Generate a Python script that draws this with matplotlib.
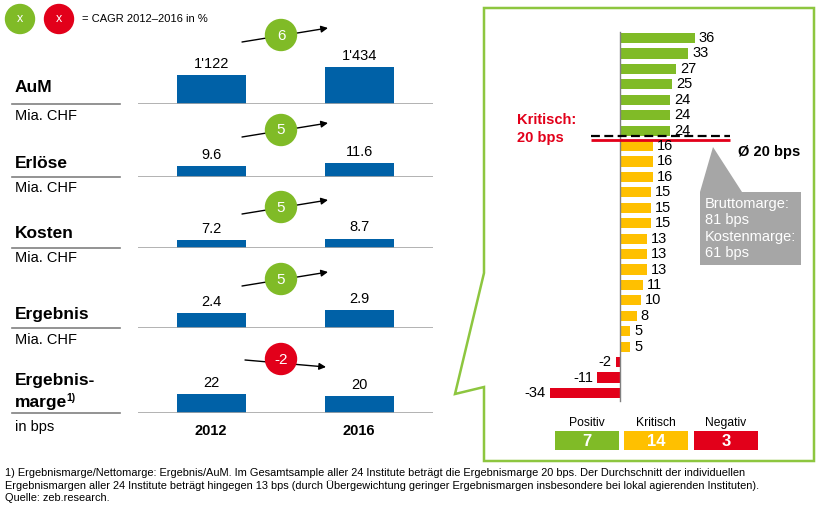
import matplotlib.pyplot as plt
from matplotlib.patches import Circle, Polygon, Rectangle

plt.rcParams['font.family'] = ['Liberation Sans', 'DejaVu Sans']

W, H = 825, 514

# --- Daten ---
kennzahlen = ['AuM', 'Erlöse', 'Kosten', 'Ergebnis', 'Ergebnis-\nmarge']
einheiten = ['Mia. CHF', 'Mia. CHF', 'Mia. CHF', 'Mia. CHF', 'in bps']
jahre = ['2012', '2016']
werte_2012 = [1122, 9.6, 7.2, 2.4, 22]
werte_2016 = [1434, 11.6, 8.7, 2.9, 20]
cagr = [6, 5, 5, 5, -2]

margen = [36, 33, 27, 25, 24, 24, 24, 16, 16, 16, 15, 15, 15, 13, 13, 13,
          11, 10, 8, 5, 5, -2, -11, -34]
gruppen = ['Positiv', 'Kritisch', 'Negativ']
kritisch_grenze = 20
durchschnitt = 20
brutto_marge = 81
kosten_marge = 61

fussnote = [
    '1) Ergebnismarge/Nettomarge: Ergebnis/AuM. Im Gesamtsample aller 24 Institute beträgt die Ergebnismarge 20 bps. '
    'Der Durchschnitt der individuellen',
    'Ergebnismargen aller 24 Institute beträgt hingegen 13 bps (durch Übergewichtung geringer Ergebnismargen '
    'insbesondere bei lokal agierenden Instituten).',
    'Quelle: zeb.research.',
]

# Farben
BLAU = '#0061A7'
GRUEN = '#80BB27'
GELB = '#FFC000'
ROT = '#E2001A'
GRAU = '#A6A6A6'
LINIE = '#808080'

# Layout in Pixeln (Zeilen links)
zeile_basis = [104, 177, 248, 328, 413]
zeile_skala = [38.7, 0.85, 0.93, 0.161, 1.17]   # Einheiten pro Pixel
label_y = [88, 163, 233, 314, 381]
einheit_y = [116, 188, 258, 340, 427]
kreis_y = [35, 130, 207, 279, 359]


def fmt(v):
    if v >= 1000:
        return f"{v:,.0f}".replace(',', "'")
    return f"{v:g}"


def px_axes(fig, x0, y0, x1, y1):
    return fig.add_axes([x0 / W, 1 - y1 / H, (x1 - x0) / W, (y1 - y0) / H])


fig = plt.figure(figsize=(W / 100, H / 100), dpi=100)

# Overlay für Text und Formen
ov = fig.add_axes([0, 0, 1, 1])
ov.set_xlim(0, W)
ov.set_ylim(H, 0)
ov.axis('off')

# --- Legende oben links ---
ov.add_patch(Circle((20, 19), 14.5, color=GRUEN))
ov.add_patch(Circle((59, 19), 14.5, color=ROT))
ov.text(20, 19.5, 'x', color='white', fontsize=9, ha='center', va='center')
ov.text(59, 19.5, 'x', color='white', fontsize=9, ha='center', va='center')
ov.text(82, 19.5, '= CAGR 2012–2016 in %', fontsize=8, va='center')

# --- Linker Teil: Kennzahlen ---
for i, name in enumerate(kennzahlen):
    base = zeile_basis[i]
    # Beschriftung
    zeilen = name.split('\n')
    for k, z in enumerate(zeilen):
        t = ov.text(15, label_y[i] + k * 22, z, fontsize=12.5, fontweight='bold', va='center')
    if i == len(kennzahlen) - 1:
        ov.annotate('1)', xy=(1.0, 0.5), xycoords=t, fontsize=7.5, fontweight='bold',
                    va='bottom', ha='left', xytext=(-0.5, 0), textcoords='offset points')
    ov.text(15, einheit_y[i], einheiten[i], fontsize=10.5, va='center')
    ov.plot([12, 120], [base, base], color=LINIE, lw=1.2)

    # Balken
    ax = px_axes(fig, 138, base - 50, 433, base)
    ax.patch.set_alpha(0)
    hoehe = 50 * zeile_skala[i]
    werte = [werte_2012[i], werte_2016[i]]
    bars = ax.bar([0, 1], werte, width=0.47, color=BLAU)
    ax.bar_label(bars, labels=[fmt(v) for v in werte], padding=3, fontsize=10.5)
    ax.axhline(0, color=GRAU, lw=1.2)
    ax.set_xlim(-0.5, 1.5)
    ax.set_ylim(0, hoehe)
    ax.axis('off')

    # CAGR-Kreis mit Pfeil
    cy = kreis_y[i]
    if cagr[i] >= 0:
        start, ende, farbe = (242, cy + 7), (328, cy - 7), GRUEN
    else:
        start, ende, farbe = (245, cy + 1), (326, cy + 8), ROT
    ov.annotate('', xy=ende, xytext=start,
                arrowprops=dict(arrowstyle='-|>', color='black', lw=1, mutation_scale=10,
                                shrinkA=0, shrinkB=0))
    ov.add_patch(Circle((281, cy), 15.5, color=farbe, zorder=5))
    ov.text(281, cy + 0.5, str(cagr[i]), color='white', fontsize=11, ha='center', va='center', zorder=6)

# Jahre
for x, j in zip([211, 359], jahre):
    ov.text(x, 431, j, fontsize=10.5, fontweight='bold', ha='center', va='center')

# --- Rechter Teil: Callout-Rahmen ---
rahmen = [(484, 8), (814, 8), (814, 461), (484, 461), (484, 387), (455, 394), (484, 273)]
ov.add_patch(Polygon(rahmen, closed=True, fill=False, edgecolor='#8DC63F', lw=1.8))

# Balken der Ergebnismargen
axr = px_axes(fig, 500, 25, 810, 405)
axr.patch.set_alpha(0)
pos = list(range(len(margen)))
farben = [GRUEN if m >= kritisch_grenze else (GELB if m >= 0 else ROT) for m in margen]
axr.barh(pos, margen, height=0.66, color=farben)
for p, m in zip(pos, margen):
    if m >= 0:
        axr.annotate(str(m), (m, p), xytext=(3, 0), textcoords='offset points',
                     va='center', ha='left', fontsize=10.5)
    else:
        axr.annotate(str(m), (m, p), xytext=(-3, 0), textcoords='offset points',
                     va='center', ha='right', fontsize=10.5)
axr.plot([0, 0], [-0.4, 23.5], color=LINIE, lw=1)
n_pos = sum(1 for m in margen if m >= kritisch_grenze)
axr.plot([-14, 53], [n_pos - 0.38, n_pos - 0.38], color=ROT, lw=2, solid_capstyle='butt')
axr.plot([-14, 53], [n_pos - 0.62, n_pos - 0.62], color='black', lw=1.6, dashes=(4, 2))
axr.set_xlim(-120 / 2.07, 190 / 2.07)
axr.set_ylim(23 + 12 / 15.43, -13 / 15.43)
axr.axis('off')

ov.text(517, 129, f'Kritisch:\n{kritisch_grenze} bps', color=ROT, fontsize=10.5,
        fontweight='bold', va='center', linespacing=1.3)
ov.text(738, 152, f'Ø {durchschnitt} bps', fontsize=10.5, fontweight='bold', va='center')

# Grauer Kasten
ov.add_patch(Polygon([(700, 192), (713, 147), (742, 192)], closed=True, color=GRAU, lw=0))
ov.add_patch(Rectangle((700, 192), 101, 73, color=GRAU, lw=0))
ov.text(705, 228.5, f'Bruttomarge:\n{brutto_marge} bps\nKostenmarge:\n{kosten_marge} bps',
        color='white', fontsize=10.5, va='center', linespacing=1.2)

# Zusammenfassung unten
anzahl = [sum(1 for m in margen if m >= kritisch_grenze),
          sum(1 for m in margen if 0 <= m < kritisch_grenze),
          sum(1 for m in margen if m < 0)]
for x0, g, n, c in zip([555, 624, 694], gruppen, anzahl, [GRUEN, GELB, ROT]):
    ov.add_patch(Rectangle((x0, 431), 64, 19, color=c, lw=0))
    ov.text(x0 + 32, 423, g, fontsize=8.7, ha='center', va='center')
    ov.text(x0 + 32, 441, str(n), color='white', fontsize=12, fontweight='bold',
            ha='center', va='center')

# Fussnote
for k, zeile in enumerate(fussnote):
    ov.text(5, 473 + k * 12.5, zeile, fontsize=7.9, va='center')

fig.savefig('out.png', dpi=100)
